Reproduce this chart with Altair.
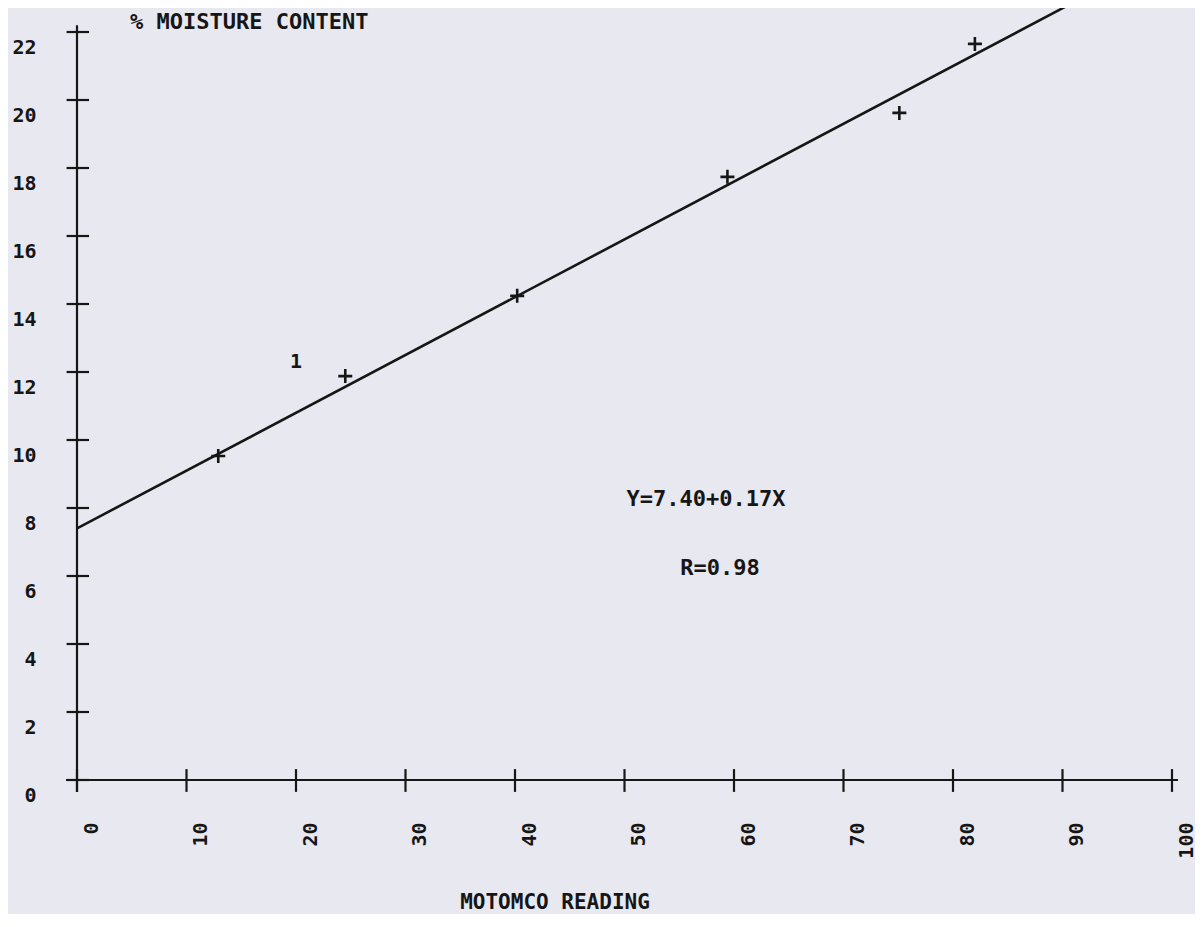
import altair as alt
import pandas as pd

# ---- data ----
motomco = [12.9, 24.5, 40.2, 59.4, 75.1, 82.0]
moisture = [9.53, 11.88, 14.24, 17.74, 19.62, 21.65]

fit_x = [0, 100]
fit_y = [7.40, 24.40]          # Y = 7.40 + 0.17X

marker_x = [20.0]
marker_y = [12.3]
marker_text = ["1"]

x_ticks = [0, 10, 20, 30, 40, 50, 60, 70, 80, 90, 100]
y_ticks = [0, 2, 4, 6, 8, 10, 12, 14, 16, 18, 20, 22]

# ---- styling ----
FONT = "DejaVu Sans Mono"
INK = "#161616"
BG = "#e8e8f1"
W, H = 1095, 772
XDOM = [0, 100]
YDOM = [0, 22.706]

xs = alt.Scale(domain=XDOM, nice=False, zero=False)
ys = alt.Scale(domain=YDOM, nice=False, zero=False)

pts = pd.DataFrame({"x": motomco, "y": moisture})
fit = pd.DataFrame({"x": fit_x, "y": fit_y})
mk = pd.DataFrame({"x": marker_x, "y": marker_y, "t": marker_text})

axis_lines = pd.DataFrame({"x": [-1.0, 0.0], "x2": [100.55, 0.0],
                           "y": [0.0, -0.35], "y2": [0.0, 22.2]})
ytick_df = pd.DataFrame({"v": y_ticks})
xtick_df = pd.DataFrame({"v": x_ticks})

# axis labels via the library's axes (no domain/ticks; those are drawn as crossing rules)
label_layer = alt.Chart(pts).mark_point(opacity=0).encode(
    x=alt.X("x:Q", scale=xs, axis=alt.Axis(
        values=x_ticks, orient="bottom", domain=False, ticks=False, grid=False,
        labelAngle=270, labelAlign="right", labelBaseline="middle",
        labelPadding=42, labelOffset=14, labelFont=FONT, labelFontSize=20,
        labelFontWeight="bold", labelColor=INK, title=None)),
    y=alt.Y("y:Q", scale=ys, axis=alt.Axis(
        values=y_ticks, orient="left", domain=False, ticks=False, grid=False,
        labelAlign="right", labelBaseline="middle", labelPadding=41,
        labelOffset=15, labelFont=FONT, labelFontSize=20,
        labelFontWeight="bold", labelColor=INK, title=None)),
)

axes = alt.Chart(axis_lines).mark_rule(color=INK, strokeWidth=2.2).encode(
    x=alt.X("x:Q", scale=xs), x2="x2:Q",
    y=alt.Y("y:Q", scale=ys), y2="y2:Q")

yticks = alt.Chart(ytick_df).mark_rule(color=INK, strokeWidth=2.2).encode(
    x=alt.datum(-0.95, scale=xs), x2=alt.datum(1.1),
    y=alt.Y("v:Q", scale=ys))

xticks = alt.Chart(xtick_df).mark_rule(color=INK, strokeWidth=2.2).encode(
    x=alt.X("v:Q", scale=xs),
    y=alt.datum(-0.35, scale=ys), y2=alt.datum(0.32))

fit_line = alt.Chart(fit).mark_line(color=INK, strokeWidth=2.6, clip=True).encode(
    x=alt.X("x:Q", scale=xs), y=alt.Y("y:Q", scale=ys))

crosses = alt.Chart(pts).mark_point(
    shape="M-1,0L1,0M0,-1L0,1", size=196, filled=False,
    strokeWidth=2.6, color=INK, opacity=1).encode(
    x=alt.X("x:Q", scale=xs), y=alt.Y("y:Q", scale=ys))

marker = alt.Chart(mk).mark_text(font=FONT, fontSize=20, fontWeight="bold",
                                 color=INK).encode(
    x=alt.X("x:Q", scale=xs), y=alt.Y("y:Q", scale=ys), text="t:N")

one = alt.Data(values=[{}])

def note(txt, px, py, align="center", size=20):
    return alt.Chart(one).mark_text(font=FONT, fontSize=size, fontWeight="bold",
                                    color=INK, align=align, baseline="middle").encode(
        x=alt.value(px), y=alt.value(py), text=alt.value(txt))

title = note("% MOISTURE CONTENT", 53, 14, align="left", size=22)
eq = note("Y=7.40+0.17X", 629, 491, size=22)
rr = note("R=0.98", 643, 560, size=22)
xtitle = note("MOTOMCO READING", 478, 895, size=21)

chart = alt.layer(label_layer, axes, yticks, xticks, fit_line, crosses, marker,
                  title, eq, rr, xtitle).properties(
    width=W, height=H,
    autosize=alt.AutoSizeParams(type="none"),
    padding={"left": 69, "top": 0, "right": 23, "bottom": 134},
).configure(background=BG).configure_view(stroke=None)

chart.save("out.html", embed_options={"renderer": "svg", "actions": False})
